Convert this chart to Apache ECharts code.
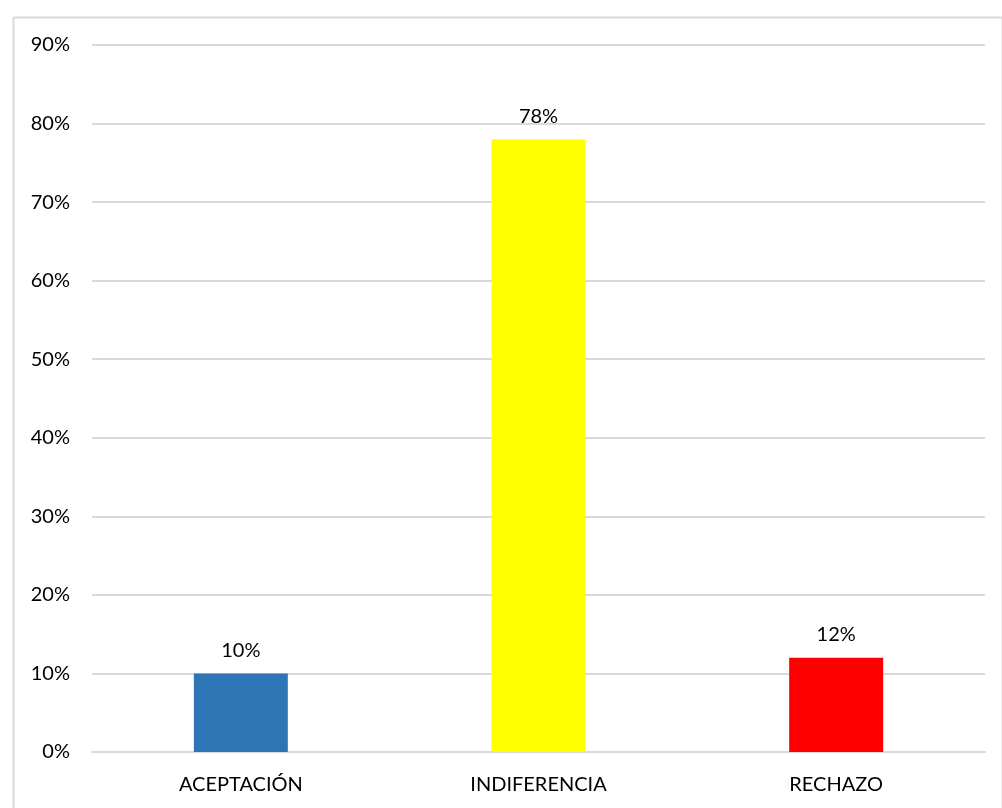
<!DOCTYPE html>
<html>
<head>
<meta charset="utf-8">
<script src="https://cdn.jsdelivr.net/npm/echarts@6/dist/echarts.min.js"></script>
<style>
  html, body { margin: 0; padding: 0; background: #fff; }
  #chart { width: 1002px; height: 808px; }
</style>
</head>
<body>
<div id="chart"></div>
<script>
  const categories = ["ACEPTACIÓN", "INDIFERENCIA", "RECHAZO"];
  const values = [10, 78, 12];
  const barColors = ["#2E75B6", "#FFFF00", "#FF0000"];

  const font = "Lato, 'Open Sans', sans-serif";
  const chart = echarts.init(document.getElementById("chart"));

  chart.setOption({
    animation: false,
    backgroundColor: "#fff",
    graphic: [
      {
        type: "rect",
        left: 11,
        top: 15,
        shape: { width: 989, height: 820 },
        style: { fill: "none", stroke: "#d9d9d9", lineWidth: 2 },
        silent: true,
      },
    ],
    grid: { left: 92, right: 17, top: 45, bottom: 56 },
    xAxis: {
      type: "category",
      data: categories,
      axisLine: { show: true, lineStyle: { color: "#d9d9d9", width: 2 } },
      axisTick: { show: false },
      axisLabel: {
        color: "#000",
        fontSize: 20,
        fontFamily: font,
        margin: 23,
      },
    },
    yAxis: {
      type: "value",
      min: 0,
      max: 90,
      interval: 10,
      axisLine: { show: false },
      axisTick: { show: false },
      splitLine: { lineStyle: { color: "#d9d9d9", width: 2 } },
      axisLabel: {
        color: "#000",
        fontSize: 20,
        fontFamily: font,
        margin: 22,
        formatter: "{value}%",
      },
    },
    series: [
      {
        type: "bar",
        barWidth: 94,
        data: values.map((v, i) => ({ value: v, itemStyle: { color: barColors[i] } })),
        label: {
          show: true,
          position: "top",
          distance: 13,
          color: "#000",
          fontSize: 20,
          fontFamily: font,
          formatter: "{c}%",
        },
      },
    ],
  });
</script>
</body>
</html>
